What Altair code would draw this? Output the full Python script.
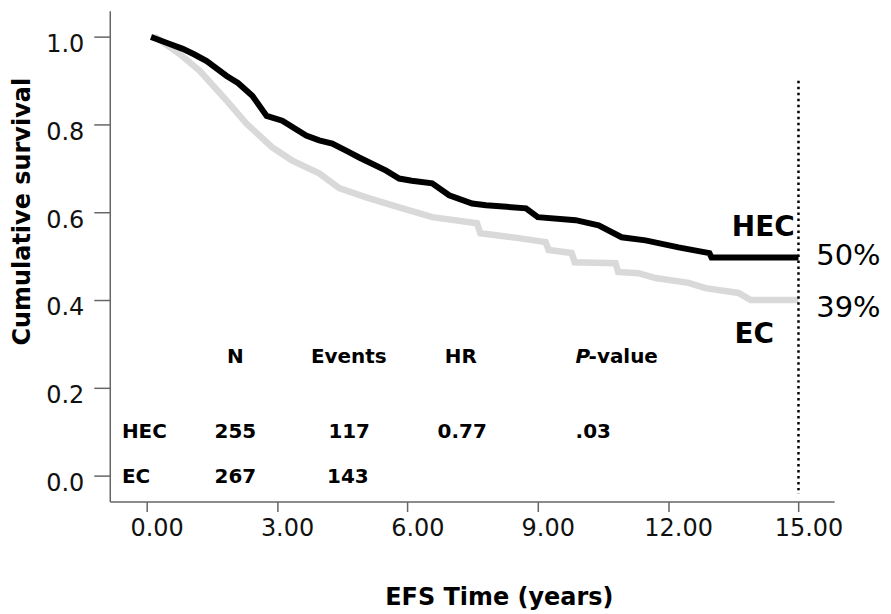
import altair as alt
import pandas as pd

# ---- data ----
hec_time = [0.10, 0.50, 0.83, 1.10, 1.38, 1.84, 2.10, 2.43, 2.76, 3.12, 3.67, 3.97, 4.27, 4.60,
            4.89, 5.51, 5.81, 6.10, 6.57, 6.96, 7.49, 7.81, 8.73, 9.00, 9.87, 10.40, 10.93,
            11.48, 12.24, 12.95, 13.00, 15.00]
hec_surv = [1.000, 0.985, 0.973, 0.960, 0.945, 0.911, 0.895, 0.866, 0.820, 0.809, 0.775, 0.764,
            0.757, 0.740, 0.725, 0.695, 0.677, 0.672, 0.666, 0.639, 0.620, 0.616, 0.609, 0.589,
            0.582, 0.570, 0.543, 0.536, 0.520, 0.507, 0.497, 0.497]

ec_time = [0.10, 0.23, 0.76, 1.22, 1.84, 2.30, 2.89, 3.35, 3.97, 4.43, 5.05, 5.81, 6.57, 7.60,
           7.68, 8.56, 9.18, 9.25, 9.78, 9.85, 10.79, 10.85, 11.32, 11.71, 12.47, 12.86, 13.62,
           13.90, 15.00]
ec_surv = [1.000, 0.998, 0.961, 0.923, 0.855, 0.802, 0.748, 0.718, 0.689, 0.655, 0.634, 0.611,
           0.589, 0.575, 0.552, 0.541, 0.532, 0.514, 0.507, 0.486, 0.484, 0.464, 0.461, 0.450,
           0.439, 0.427, 0.416, 0.400, 0.400]

x_ticks = [0, 3, 6, 9, 12, 15]
y_ticks = [0.0, 0.2, 0.4, 0.6, 0.8, 1.0]

groups = ["HEC", "EC"]
final_pct = ["50%", "39%"]

table_cols = ["N", "Events", "HR"]
table_rows = ["HEC", "EC"]
table_n = ["255", "267"]
table_events = ["117", "143"]
table_hr = ["0.77", ""]
table_p = [".03", ""]

FONT = "DejaVu Sans"

curves = pd.concat([
    pd.DataFrame({"t": hec_time, "s": hec_surv, "g": "HEC", "o": range(len(hec_time))}),
    pd.DataFrame({"t": ec_time, "s": ec_surv, "g": "EC", "o": range(len(ec_time))}),
])

xscale = alt.Scale(domain=[-0.85, 15.82], nice=False, zero=False)
yscale = alt.Scale(domain=[-0.06, 1.06], nice=False, zero=False)

x_axis = alt.Axis(values=x_ticks, format=".2f", title="EFS Time (years)", grid=False,
                  labelFont=FONT, labelFontSize=24, labelColor="#111", labelOffset=10, labelPadding=5,
                  tickSize=10, tickColor="#666", tickWidth=1.5, domainColor="#666", domainWidth=1.5,
                  titleFont=FONT, titleFontSize=24, titleFontWeight="bold", titleColor="#000",
                  titleX=390, titleY=103, titleBaseline="alphabetic", labelFlush=False)
y_axis = alt.Axis(values=y_ticks, format=".1f", title="Cumulative survival", grid=False,
                  labelFont=FONT, labelFontSize=24, labelColor="#111", labelOffset=8, labelPadding=10,
                  tickSize=16, tickColor="#666", tickWidth=1.5, domainColor="#666", domainWidth=1.5,
                  titleFont=FONT, titleFontSize=24, titleFontWeight="bold", titleColor="#000",
                  titleX=-87, titleY=201, titleAngle=270, titleAlign="center",
                  titleBaseline="middle", labelFlush=False)


def X(field="t"):
    return alt.X(f"{field}:Q", scale=xscale, axis=x_axis)


def Y(field="s"):
    return alt.Y(f"{field}:Q", scale=yscale, axis=y_axis)


ec_line = alt.Chart(curves[curves.g == "EC"]).mark_line(
    color="#d9d9d9", strokeWidth=6.5, strokeJoin="miter"
).encode(x=X(), y=Y(), order="o:Q")

hec_line = alt.Chart(curves[curves.g == "HEC"]).mark_line(
    color="#000000", strokeWidth=6, strokeJoin="miter"
).encode(x=X(), y=Y(), order="o:Q")

rule = alt.Chart(pd.DataFrame({"t": [15.0], "s": [0.90], "s2": [-0.043]})).mark_rule(
    color="#000", strokeWidth=2.5, strokeDash=[2.5, 3.5]
).encode(x=X(), y=Y(), y2="s2:Q")


def text_layer(rows, size, weight="normal", align="center", style="normal"):
    df = pd.DataFrame(rows, columns=["t", "s", "label"])
    return alt.Chart(df).mark_text(
        font=FONT, fontSize=size, fontWeight=weight, align=align, baseline="middle",
        fontStyle=style, color="#000"
    ).encode(x=X(), y=Y(), text="label:N")


big_labels = text_layer([(14.19, 0.565, groups[0]), (13.98, 0.320, groups[1])], 28, "bold")
pct_labels = text_layer([(15.41, 0.500, final_pct[0]), (15.41, 0.381, final_pct[1])], 29,
                        align="left")

hdr_y, r1_y, r2_y = 0.270, 0.098, -0.005
table_center = text_layer([
    (2.04, hdr_y, table_cols[0]), (4.65, hdr_y, table_cols[1]), (7.23, hdr_y, table_cols[2]),
    (2.04, r1_y, table_n[0]), (4.66, r1_y, table_events[0]), (7.26, r1_y, table_hr[0]),
    (2.04, r2_y, table_n[1]), (4.63, r2_y, table_events[1]),
], 20, "bold")
table_left = text_layer([
    (-0.57, r1_y, table_rows[0]), (-0.57, r2_y, table_rows[1]),
    (9.87, r1_y, table_p[0]), (10.17, hdr_y, "-value"),
], 20, "bold", align="left")
p_italic = text_layer([(9.87, hdr_y, "P")], 20, "bold", align="left", style="italic")

chart = alt.layer(
    ec_line, hec_line, rule, big_labels, pct_labels, table_center, table_left, p_italic
).properties(
    width=726, height=492,
    autosize=alt.AutoSizeParams(type="none"),
    padding={"left": 102, "top": 2, "right": 49, "bottom": 110},
).configure(background="#ffffff", view=alt.ViewConfig(strokeWidth=0, stroke="transparent"))

chart.save("out.html", embed_options={"renderer": "svg", "actions": False})
